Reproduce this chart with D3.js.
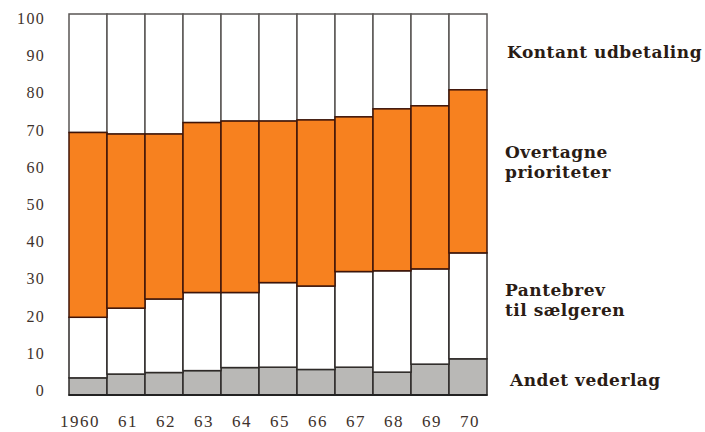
<!DOCTYPE html>
<html>
<head>
<meta charset="utf-8">
<script src="https://cdn.jsdelivr.net/npm/d3@7"></script>
<style>
  html, body { margin: 0; padding: 0; background: #ffffff; }
  svg { display: block; }
</style>
</head>
<body>
<svg id="chart" width="705" height="432"></svg>
<script>
// ---- data (percent shares) ----
const years = ["1960", "61", "62", "63", "64", "65", "66", "67", "68", "69", "70"];
const andetVederlag      = [4.5, 5.5, 5.9, 6.4, 7.2, 7.3, 6.7, 7.3, 6.0, 8.1, 9.5];
const pantebrevSaelgeren = [15.9, 17.3, 19.3, 20.5, 19.7, 22.2, 21.9, 25.1, 26.6, 25.0, 27.8];
const overtagnePrior     = [48.5, 45.7, 43.3, 44.6, 45.0, 42.4, 43.6, 40.6, 42.5, 42.8, 42.8];
const kontantUdbetaling  = [31.1, 31.5, 31.5, 28.5, 28.1, 28.1, 27.8, 27.0, 24.9, 24.1, 19.9];
const seriesKeys = ["andet", "pantebrev", "overtagne", "kontant"];
const seriesLabels = [["Andet vederlag"], ["Pantebrev", "til sælgeren"], ["Overtagne", "prioriteter"], ["Kontant udbetaling"]];
const yTicks = [0, 10, 20, 30, 40, 50, 60, 70, 80, 90, 100];

// ---- build table ----
const table = years.map((yr, i) => ({
  year: yr,
  andet: andetVederlag[i],
  pantebrev: pantebrevSaelgeren[i],
  overtagne: overtagnePrior[i],
  kontant: kontantUdbetaling[i]
}));

const fills   = { andet: "#b9b8b6", pantebrev: "#ffffff", overtagne: "#f7811f", kontant: "#ffffff" };
const strokes = { andet: "#2e2a28", pantebrev: "#2e2a28", overtagne: "#3f1408", kontant: "#5a5654" };

const svg = d3.select("#chart");

const x = d3.scaleBand().domain(years).range([69, 487]).padding(0);
const y = d3.scaleLinear().domain([0, 100]).range([395, 14]);
// tick labels in the original sit on a slightly compressed scale
const yLab = d3.scaleLinear().domain([0, 100]).range([396, 24]);

const stacked = d3.stack().keys(seriesKeys)(table);

// draw order: overtagne last so its dark borders are on top
const order = ["andet", "pantebrev", "kontant", "overtagne"];
order.forEach(key => {
  const layer = stacked.find(s => s.key === key);
  svg.append("g")
    .selectAll("rect")
    .data(layer)
    .join("rect")
    .attr("x", d => x(d.data.year))
    .attr("y", d => y(d[1]))
    .attr("width", x.bandwidth())
    .attr("height", d => y(d[0]) - y(d[1]))
    .attr("fill", fills[key])
    .attr("stroke", strokes[key])
    .attr("stroke-width", 1.5);
});

// baseline
svg.append("line")
  .attr("x1", x.range()[0] - 0.5).attr("x2", x.range()[1] + 0.5)
  .attr("y1", y(0)).attr("y2", y(0))
  .attr("stroke", "#222").attr("stroke-width", 2);

// y tick labels
svg.append("g")
  .selectAll("text")
  .data(yTicks)
  .join("text")
  .attr("x", 45)
  .attr("y", d => yLab(d))
  .attr("text-anchor", "end")
  .attr("font-family", "'Liberation Serif', 'Times New Roman', serif")
  .attr("font-size", 16)
  .attr("letter-spacing", 1.3)
  .attr("fill", "#3e322c")
  .text(d => d);

// x tick labels
svg.append("g")
  .selectAll("text")
  .data(years)
  .join("text")
  .attr("x", d => x(d) + x.bandwidth() / 2 + 12)
  .attr("y", 427)
  .attr("text-anchor", "end")
  .attr("font-family", "'Liberation Serif', 'Times New Roman', serif")
  .attr("font-size", 17)
  .attr("letter-spacing", 1.5)
  .attr("fill", "#3e322c")
  .text(d => d);

// series labels on the right
const labelPos = [
  { x: 510, y: 385.5 },
  { x: 505, y: 296 },
  { x: 505, y: 158 },
  { x: 507, y: 57.5 }
];
seriesLabels.forEach((lines, i) => {
  const t = svg.append("text")
    .attr("x", labelPos[i].x)
    .attr("y", labelPos[i].y)
    .attr("font-family", "'DejaVu Serif', 'Liberation Serif', serif")
    .attr("font-weight", "bold")
    .attr("font-size", 17)
    .attr("letter-spacing", 0.5)
    .attr("fill", "#2a1c15");
  lines.forEach((ln, j) => {
    t.append("tspan")
      .attr("x", labelPos[i].x)
      .attr("dy", j === 0 ? 0 : 20)
      .text(ln);
  });
});
</script>
</body>
</html>
